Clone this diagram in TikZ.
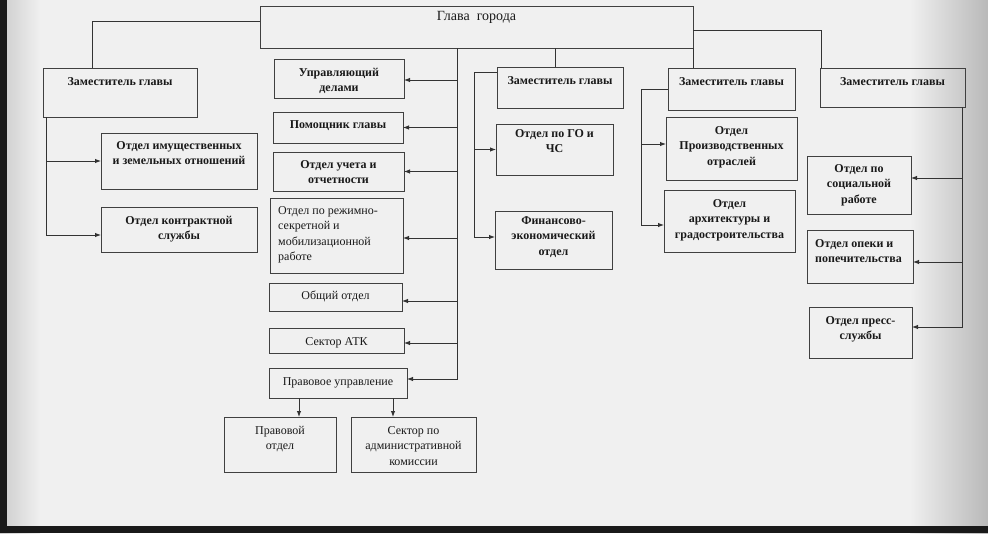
\documentclass[tikz,border=0pt]{standalone}
\usepackage{fontspec}
\setmainfont{Liberation Serif}
\usetikzlibrary{arrows.meta}
\newcommand\obox[8]{% name, x, y, w, h, text shift, font, text
  \node[box, minimum width=#4pt, minimum height=#5pt, anchor=north west] (#1) at (#2,#3) {};
  \node[txt, anchor=north, font=\fontsize{12}{15.5}\selectfont#7] (#1-t) at ([yshift=-#6pt]#1.north) {#8};}
\newcommand\oboxl[9]{% left-aligned text: name, x, y, w, h, text shift, xshift, font, text
  \node[box, minimum width=#4pt, minimum height=#5pt, anchor=north west] (#1) at (#2,#3) {};
  \node[txt, anchor=north west, align=left, font=\fontsize{12}{15.5}\selectfont#8] (#1-t) at ([xshift=#7pt,yshift=-#6pt]#1.north west) {#9};}
\newcommand\feed[3]{\coordinate (tmp) at ([yshift=#3pt]#2); \draw[arr] (#1 |- tmp) -- (tmp);}
\begin{document}
\begin{tikzpicture}[x=1pt,y=-1pt,
  box/.style={draw=black!75, line width=0.9pt, inner sep=0pt, outer sep=0pt},
  txt/.style={inner sep=0pt, align=center, text=black!90},
  ln/.style={draw=black!80, line width=0.9pt},
  arr/.style={ln, -{Latex[length=6pt,width=4.5pt]}}]
\useasboundingbox (0,0) rectangle (988,533);
\fill[gray!12] (0,0) rectangle (988,533);
\shade[left color=gray!12, right color=gray!55] (910,0) rectangle (988,533);
\shade[left color=gray!40, right color=gray!12] (0,0) rectangle (40,533);
\fill[black!90] (0,526) rectangle (988,533);
\fill[black!90] (0,0) rectangle (7,533);

% boxes
\node[box, minimum width=433pt, minimum height=42pt, anchor=north west] (glava) at (260,6) {};
\node[txt, anchor=north, font=\fontsize{14}{16}\selectfont] (glava-t) at ([yshift=-5pt]glava.north) {Глава\ \ города};
\obox{zam1}{43}{68}{154}{49}{9}{\bfseries}{Заместитель главы}
\obox{imu}{101}{133}{156}{56}{8}{\bfseries}{Отдел имущественных\\и земельных отношений}
\obox{kon}{101}{207}{156}{45}{9}{\bfseries}{Отдел контрактной\\службы}
\obox{upr}{274}{59}{130}{39}{9}{\bfseries}{Управляющий\\делами}
\obox{pom}{273}{112}{130}{31}{8}{\bfseries}{Помощник главы}
\obox{uch}{273}{152}{131}{39}{8}{\bfseries}{Отдел учета и\\отчетности}
\oboxl{rez}{270}{198}{133}{75}{8}{8}{}{Отдел по режимно-\\секретной и\\мобилизационной\\работе}
\obox{obs}{269}{283}{133}{28}{8}{}{Общий отдел}
\obox{atk}{269}{328}{135}{25}{9}{}{Сектор АТК}
\obox{prav}{269}{368}{138}{30}{9}{}{Правовое управление}
\obox{pro}{224}{417}{112}{55}{9}{}{Правовой\\отдел}
\obox{adm}{351}{417}{125}{55}{9}{}{Сектор по\\административной\\комиссии}
\obox{zam2}{497}{67}{126}{41}{9}{\bfseries}{Заместитель главы}
\obox{go}{496}{124}{117}{51}{5}{\bfseries}{Отдел по ГО и\\ЧС}
\obox{fin}{495}{211}{117}{58}{5}{\bfseries}{Финансово-\\экономический\\отдел}
\obox{zam3}{668}{68}{127}{42}{9}{\bfseries}{Заместитель главы}
\obox{prz}{666}{117}{131}{63}{9}{\bfseries}{Отдел\\Производственных\\отраслей}
\obox{arh}{664}{190}{131}{62}{9}{\bfseries}{Отдел\\архитектуры и\\градостроительства}
\obox{zam4}{820}{68}{145}{39}{9}{\bfseries}{Заместитель главы}
\obox{soc}{807}{156}{104}{58}{8}{\bfseries}{Отдел по\\социальной\\работе}
\oboxl{ope}{807}{230}{106}{53}{9}{8}{\bfseries}{Отдел опеки и\\попечительства}
\obox{pre}{809}{307}{103}{51}{9}{\bfseries}{Отдел пресс-\\службы}

% Глава -> заместитель 1
\draw[ln] ([yshift=6pt]glava.west) -| ([xshift=-28pt]zam1.north);
\coordinate (b1) at ([xshift=3pt]zam1.south west);
\coordinate (k1) at ([yshift=-5.5pt]kon.west);
\draw[arr] (b1) |- (k1);
\feed{b1}{imu.west}{0}

% central bus
\coordinate (bc) at ([xshift=-19.5pt]glava.south);
\coordinate (pv) at ([yshift=4pt]prav.east);
\draw[arr] (bc) |- (pv);
\feed{bc}{upr.east}{-1.5}
\feed{bc}{pom.east}{0}
\feed{bc}{uch.east}{0}
\feed{bc}{rez.east}{-2.5}
\feed{bc}{obs.east}{-4}
\feed{bc}{atk.east}{-2.5}
\coordinate (d1) at ([xshift=-39pt]prav.south);
\coordinate (d2) at ([xshift=55pt]prav.south);
\draw[arr] (d1) -- (d1 |- pro.north);
\draw[arr] (d2) -- (d2 |- adm.north);

% заместитель 2
\coordinate (z2) at ([xshift=-5pt]zam2.north);
\draw[ln] (z2 |- glava.south) -- (z2);
\coordinate (z2w) at ([yshift=15.5pt]zam2.west);
\coordinate (b2) at ([xshift=-23pt]z2w);
\draw[ln] (z2w) -- (b2);
\coordinate (f2) at ([yshift=3pt]fin.west);
\draw[arr] (b2) |- (f2);
\feed{b2}{go.west}{0}

% заместитель 3
\draw[ln] (glava.south east) -- (glava.south east |- zam3.north);
\coordinate (b3) at ([xshift=-27pt]zam3.west);
\draw[ln] (zam3.west) -- (b3);
\coordinate (a3) at ([yshift=-4pt]arh.west);
\draw[arr] (b3) |- (a3);
\feed{b3}{prz.west}{4.5}

% заместитель 4
\draw[ln] ([yshift=-3pt]glava.east) -| ([xshift=1pt]zam4.north west);
\coordinate (b4) at ([xshift=-3pt]zam4.south east);
\coordinate (p4) at ([yshift=5.5pt]pre.east);
\draw[arr] (b4) |- (p4);
\feed{b4}{soc.east}{7}
\feed{b4}{ope.east}{-5.5}
\end{tikzpicture}
\end{document}
